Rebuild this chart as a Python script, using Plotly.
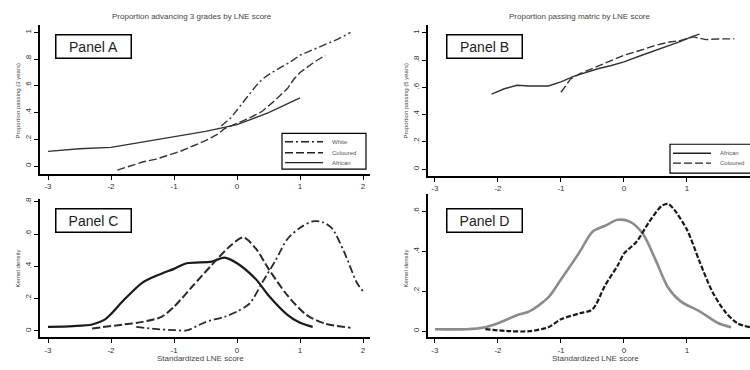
import plotly.graph_objects as go

W, H = 750, 370

# ---------------- data ----------------
x_ticks = [-3, -2, -1, 0, 1, 2]
x_tick_labels = ["-3", "-2", "-1", "0", "1", "2"]
y_ticks_ab = [0, 0.2, 0.4, 0.6, 0.8, 1.0]
y_tick_labels_ab = ["0", ".2", ".4", ".6", ".8", "1"]
y_ticks_c = [0, 0.2, 0.4, 0.6, 0.8]
y_tick_labels_c = ["0", ".2", ".4", ".6", ".8"]
y_ticks_d = [0, 0.2, 0.4, 0.6]
y_tick_labels_d = ["0", ".2", ".4", ".6"]

# Panel A: proportion advancing 3 grades
a_white_x = [-0.25, -0.1, 0.0, 0.1, 0.2, 0.3, 0.4, 0.55, 0.7, 0.85, 1.0, 1.2, 1.4, 1.6, 1.8]
a_white_y = [0.30, 0.36, 0.42, 0.48, 0.54, 0.60, 0.65, 0.70, 0.74, 0.78, 0.83, 0.87, 0.91, 0.95, 1.0]
a_col_x = [-1.9, -1.7, -1.5, -1.3, -1.1, -0.9, -0.7, -0.5, -0.3, -0.2, 0.0, 0.2, 0.4, 0.6, 0.8, 0.9, 1.0, 1.2, 1.4]
a_col_y = [-0.03, 0.0, 0.03, 0.05, 0.08, 0.11, 0.15, 0.19, 0.24, 0.28, 0.32, 0.36, 0.41, 0.49, 0.58, 0.65, 0.70, 0.77, 0.83]
a_afr_x = [-3.0, -2.5, -2.0, -1.5, -1.0, -0.5, 0.0, 0.5, 1.0]
a_afr_y = [0.11, 0.13, 0.14, 0.18, 0.22, 0.26, 0.31, 0.40, 0.51]

# Panel B: proportion passing matric
b_afr_x = [-2.1, -1.9, -1.7, -1.5, -1.2, -1.0, -0.8, -0.6, -0.4, -0.2, 0.0, 0.25, 0.5, 0.7, 0.9, 1.1, 1.2]
b_afr_y = [0.55, 0.59, 0.615, 0.61, 0.61, 0.64, 0.68, 0.71, 0.738, 0.76, 0.787, 0.83, 0.87, 0.90, 0.937, 0.975, 0.99]
b_col_x = [-1.0, -0.85, -0.7, -0.55, -0.4, -0.2, 0.0, 0.25, 0.5, 0.7, 0.9, 1.1, 1.3, 1.5, 1.75]
b_col_y = [0.564, 0.66, 0.70, 0.73, 0.76, 0.80, 0.835, 0.87, 0.908, 0.93, 0.944, 0.97, 0.95, 0.955, 0.956]

# Panel C: kernel densities, 3-grade sample
c_afr_x = [-3.0, -2.6, -2.3, -2.1, -2.0, -1.8, -1.5, -1.2, -1.0, -0.8, -0.4, -0.2, 0.0, 0.3, 0.5, 0.8, 1.0, 1.2]
c_afr_y = [0.025, 0.03, 0.04, 0.07, 0.105, 0.19, 0.30, 0.355, 0.385, 0.42, 0.43, 0.455, 0.42, 0.32, 0.22, 0.10, 0.05, 0.025]
c_col_x = [-2.3, -1.8, -1.5, -1.2, -1.0, -0.7, -0.4, -0.1, 0.1, 0.3, 0.5, 0.8, 1.1, 1.4, 1.8]
c_col_y = [0.015, 0.04, 0.056, 0.087, 0.15, 0.28, 0.41, 0.53, 0.58, 0.51, 0.385, 0.22, 0.10, 0.045, 0.02]
c_wht_x = [-1.6, -1.3, -1.0, -0.8, -0.5, -0.2, 0.0, 0.2, 0.4, 0.6, 0.8, 1.0, 1.2, 1.35, 1.5, 1.7, 1.9, 2.0]
c_wht_y = [0.025, 0.012, 0.005, 0.003, 0.055, 0.087, 0.12, 0.17, 0.30, 0.43, 0.57, 0.64, 0.68, 0.675, 0.64, 0.49, 0.30, 0.245]

# Panel D: kernel densities, matric sample
d_afr_x = [-3.0, -2.5, -2.2, -2.0, -1.7, -1.5, -1.2, -1.0, -0.7, -0.5, -0.3, -0.1, 0.1, 0.3, 0.5, 0.7, 0.9, 1.2, 1.5, 1.7]
d_afr_y = [0.01, 0.01, 0.02, 0.04, 0.08, 0.10, 0.17, 0.26, 0.40, 0.50, 0.53, 0.56, 0.55, 0.49, 0.36, 0.22, 0.15, 0.10, 0.04, 0.02]
d_col_x = [-2.2, -1.8, -1.5, -1.2, -1.0, -0.7, -0.5, -0.3, -0.1, 0.0, 0.2, 0.4, 0.6, 0.7, 0.8, 1.0, 1.2, 1.4, 1.6, 1.8, 2.0]
d_col_y = [0.01, 0.0, 0.0, 0.02, 0.06, 0.09, 0.11, 0.23, 0.33, 0.39, 0.45, 0.55, 0.63, 0.64, 0.61, 0.51, 0.35, 0.20, 0.10, 0.04, 0.02]

legend_a = ["White", "Coloured", "African"]
legend_b = ["African", "Coloured"]

# ---------------- layout helpers ----------------
def xdom(p0, p1):
    return [p0 / W, p1 / W]

def ydom(top, bottom):
    return [1 - bottom / H, 1 - top / H]

FONT = "Liberation Sans, Arial, sans-serif"
LINE_DARK = "#1a1a1a"
DASHDOT = "8px,3px,2px,3px"
DASH = "8px,3px"

fig = go.Figure()

def add(x, y, xa, ya, color, width, dash, shape="linear"):
    fig.add_trace(go.Scatter(
        x=x, y=y, mode="lines", xaxis=xa, yaxis=ya, showlegend=False,
        line=dict(color=color, width=width, dash=dash, shape=shape,
                  smoothing=0.8 if shape == "spline" else None),
    ))

# Panel A
add(a_white_x, a_white_y, "x", "y", "#333", 1.4, DASHDOT)
add(a_col_x, a_col_y, "x", "y", "#333", 1.4, DASH)
add(a_afr_x, a_afr_y, "x", "y", "#333", 1.4, "solid")
# Panel B
add(b_afr_x, b_afr_y, "x2", "y2", "#333", 1.4, "solid")
add(b_col_x, b_col_y, "x2", "y2", "#333", 1.4, DASH)
# Panel C
add(c_afr_x, c_afr_y, "x3", "y3", LINE_DARK, 2.2, "solid", "spline")
add(c_col_x, c_col_y, "x3", "y3", "#2a2a2a", 2.0, DASH, "spline")
add(c_wht_x, c_wht_y, "x3", "y3", "#2a2a2a", 1.8, DASHDOT, "spline")
# Panel D
add(d_afr_x, d_afr_y, "x4", "y4", "#8c8c8c", 2.6, "solid", "spline")
add(d_col_x, d_col_y, "x4", "y4", LINE_DARK, 2.2, "5px,2px", "spline")

def xaxis(dom, rng, anchor):
    return dict(domain=dom, range=rng, anchor=anchor, showline=True, linecolor="black",
                linewidth=1.5, ticks="outside", ticklen=4, tickwidth=1, tickcolor="black",
                showgrid=False, zeroline=False, tickvals=x_ticks, ticktext=x_tick_labels,
                tickfont=dict(size=8, color="#333", family=FONT))

def yaxis(dom, rng, anchor, tv, tt):
    return dict(domain=dom, range=rng, anchor=anchor, showline=True, linecolor="black",
                linewidth=1.5, ticks="outside", ticklen=4, tickwidth=1, tickcolor="black",
                showgrid=False, zeroline=False, tickvals=tv, ticktext=tt, tickangle=-90,
                tickfont=dict(size=8, color="#333", family=FONT))

A_x = xdom(40, 370); A_y = ydom(23, 173)
B_x = xdom(428, 750); B_y = ydom(23, 175)
C_x = xdom(40, 370); C_y = ydom(198, 337)
D_x = xdom(428, 750); D_y = ydom(193, 337)

fig.update_layout(
    width=W, height=H, margin=dict(l=0, r=0, t=0, b=0),
    paper_bgcolor="white", plot_bgcolor="white",
    font=dict(family=FONT, color="#333"),
    showlegend=False,
    xaxis=xaxis(A_x, [-3.127, 2.11], "y"),
    yaxis=yaxis(A_y, [-0.06, 1.057], "x", y_ticks_ab, y_tick_labels_ab),
    xaxis2=xaxis(B_x, [-3.11, 2.0], "y2"),
    yaxis2=yaxis(B_y, [-0.05, 1.058], "x2", y_ticks_ab, y_tick_labels_ab),
    xaxis3=xaxis(C_x, [-3.127, 2.11], "y3"),
    yaxis3=yaxis(C_y, [-0.039, 0.819], "x3", y_ticks_c, y_tick_labels_c),
    xaxis4=xaxis(D_x, [-3.11, 2.0], "y4"),
    yaxis4=yaxis(D_y, [-0.03, 0.69], "x4", y_ticks_d, y_tick_labels_d),
)

anns = []
shapes = []

def text(x, y, s, size=8, angle=0, anchor="center", color="#444"):
    anns.append(dict(x=x / W, y=1 - y / H, xref="paper", yref="paper", text=s,
                     showarrow=False, textangle=angle, xanchor=anchor, yanchor="middle",
                     font=dict(size=size, color=color, family=FONT)))

text(192, 15, "Proportion advancing 3 grades by LNE score", 8)
text(580, 15, "Proportion passing matric by LNE score", 8)
text(200, 358, "Standardized LNE score", 8)
text(595, 358, "Standardized LNE score", 8)
text(18, 100, "Proportion passing (3 years)", 6, -90)
text(406, 100, "Proportion passing (5 years)", 6, -90)
text(18, 268, "Kernel density", 6, -90)
text(406, 268, "Kernel density", 6, -90)

def panel_box(cx, cy, s):
    anns.append(dict(x=cx / W, y=1 - cy / H, xref="paper", yref="paper", text=s,
                     showarrow=False, xanchor="center", yanchor="middle",
                     width=72, height=20, borderpad=1, bordercolor="black",
                     borderwidth=1.5, bgcolor="white",
                     font=dict(size=14, color="#222", family=FONT)))

panel_box(93.5, 44.5, "Panel A")
panel_box(485, 44.5, "Panel B")
panel_box(93.5, 219.5, "Panel C")
panel_box(485, 219.5, "Panel D")

def pshape(**kw):
    kw.update(xref="paper", yref="paper")
    shapes.append(kw)

def legend(x0, y0, x1, y1, labels, dashes, rows):
    pshape(type="rect", x0=x0 / W, x1=x1 / W, y0=1 - y1 / H, y1=1 - y0 / H,
           line=dict(color="black", width=1.2), fillcolor="white")
    for lab, d, ry in zip(labels, dashes, rows):
        pshape(type="line", x0=(x0 + 3) / W, x1=(x0 + 41) / W, y0=1 - ry / H, y1=1 - ry / H,
               line=dict(color="#222", width=1.4, dash=d))
        text(x0 + 48, ry, lab, 6, anchor="left", color="#555")

legend(282, 132, 366, 168, legend_a, [DASHDOT, DASH, "solid"], [140.5, 151.5, 161.5])
legend(670, 143, 752, 172, legend_b, ["solid", DASH], [152, 162])

fig.update_layout(annotations=anns, shapes=shapes)
fig.write_html("out.html", config={"displayModeBar": False},
               post_script="document.body.style.margin='0px';")
